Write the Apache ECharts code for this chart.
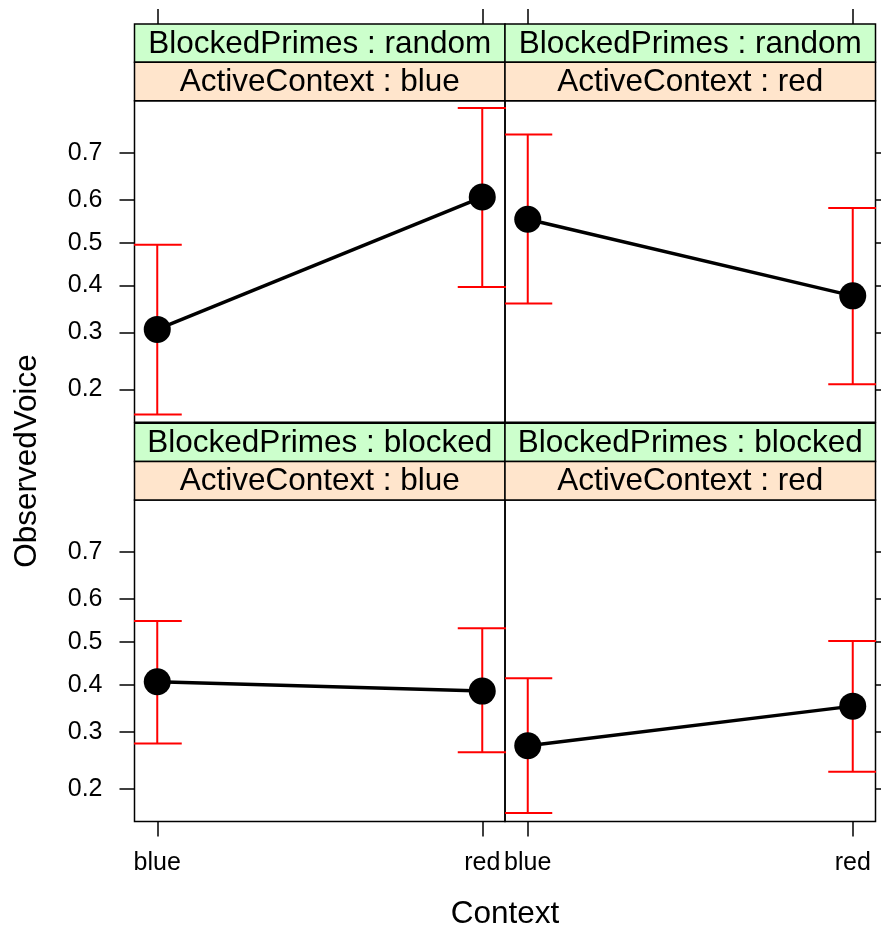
<!DOCTYPE html>
<html>
<head>
<meta charset="utf-8">
<script src="https://cdn.jsdelivr.net/npm/echarts@6/dist/echarts.min.js"></script>
<style>
  html, body { margin: 0; padding: 0; background: #fff; }
  #main { width: 881px; height: 930px; }
</style>
</head>
<body>
<div id="main"></div>
<script>
var categories = ['blue', 'red'];
var yTicks = [0.2, 0.3, 0.4, 0.5, 0.6, 0.7];

var stripPrimes = ['random', 'random', 'blocked', 'blocked'];
var stripActive = ['blue', 'red', 'blue', 'red'];

// fitted proportions and CI per panel (blue, red)
var fitTL = [0.306, 0.606], lowTL = [0.165, 0.397], upTL = [0.495, 0.781];
var fitTR = [0.555, 0.377], lowTR = [0.360, 0.208], upTR = [0.735, 0.581];
var fitBL = [0.407, 0.386], lowBL = [0.277, 0.261], upBL = [0.549, 0.532];
var fitBR = [0.273, 0.353], lowBR = [0.166, 0.227], upBR = [0.415, 0.502];

var panels = [
  {fit: fitTL, low: lowTL, up: upTL},
  {fit: fitTR, low: lowTR, up: upTR},
  {fit: fitBL, low: lowBL, up: upBL},
  {fit: fitBR, low: lowBR, up: upBR}
];

function logit(p) { return Math.log(p / (1 - p)); }

var FONT = 'Liberation Sans';
var yMin = -1.695, yMax = 1.34;
var yTickVals = yTicks.map(logit);
var xTickVals = categories.map(function (c, i) { return i + 1; });

var colLeft = [134.5, 505], colWidth = 370.5;
var rowTop = [100.7, 500], rowHeight = 321.5;
var stripH = 38.4;

var dom = document.getElementById('main');
var myChart = echarts.init(dom, null, {renderer: 'canvas'});

var grids = [], xAxes = [], yAxes = [], series = [], graphics = [];

panels.forEach(function (pn, i) {
  var col = i % 2, row = Math.floor(i / 2);
  grids.push({
    left: colLeft[col], top: rowTop[row], width: colWidth, height: rowHeight,
    show: true, borderColor: '#000', borderWidth: 1.5, backgroundColor: 'transparent'
  });
  xAxes.push({
    gridIndex: i, type: 'value', min: 0.93, max: 2.07,
    position: row === 0 ? 'top' : 'bottom',
    offset: row === 0 ? stripH * 2 : 0,
    splitLine: {show: false},
    axisLine: {show: false, onZero: false},
    axisTick: {show: true, length: 15, customValues: xTickVals, lineStyle: {color: '#000', width: 1.5}},
    axisLabel: {
      show: row === 1, customValues: xTickVals, margin: 29,
      fontSize: 25, color: '#000', fontFamily: FONT,
      formatter: function (v) { return categories[Math.round(v) - 1]; }
    }
  });
  yAxes.push({
    gridIndex: i, type: 'value', min: yMin, max: yMax,
    position: col === 0 ? 'left' : 'right',
    splitLine: {show: false},
    axisLine: {show: false, onZero: false},
    axisTick: {show: true, length: 15, customValues: yTickVals, lineStyle: {color: '#000', width: 1.5}},
    axisLabel: {
      show: col === 0, customValues: yTickVals, margin: 32,
      fontSize: 25, color: '#000', fontFamily: FONT,
      formatter: function (v) { return (1 / (1 + Math.exp(-v))).toFixed(1); }
    }
  });

  var barData = categories.map(function (c, k) {
    return [k + 1, logit(pn.low[k]), logit(pn.up[k])];
  });
  var pointData = categories.map(function (c, k) {
    return [k + 1, logit(pn.fit[k])];
  });

  series.push({
    type: 'custom', xAxisIndex: i, yAxisIndex: i, clip: true, z: 2,
    data: barData,
    renderItem: function (params, api) {
      var x = api.value(0);
      var a = api.coord([x, api.value(1)]);
      var b = api.coord([x, api.value(2)]);
      var w = 24.5;
      var st = {stroke: '#ff0000', lineWidth: 2};
      return {type: 'group', children: [
        {type: 'line', shape: {x1: a[0], y1: a[1], x2: b[0], y2: b[1]}, style: st},
        {type: 'line', shape: {x1: a[0] - w, y1: a[1], x2: a[0] + w, y2: a[1]}, style: st},
        {type: 'line', shape: {x1: b[0] - w, y1: b[1], x2: b[0] + w, y2: b[1]}, style: st}
      ]};
    }
  });
  series.push({
    type: 'line', xAxisIndex: i, yAxisIndex: i, z: 3,
    data: pointData,
    symbol: 'circle', symbolSize: 27,
    lineStyle: {color: '#000', width: 3.5},
    itemStyle: {color: '#000'},
    animation: false
  });

  // strips
  var sx = colLeft[col], sy = rowTop[row] - stripH * 2;
  graphics.push({
    type: 'rect', shape: {x: sx, y: sy, width: colWidth, height: stripH},
    style: {fill: '#ccffcc', stroke: '#000', lineWidth: 1.5}
  });
  graphics.push({
    type: 'rect', shape: {x: sx, y: sy + stripH, width: colWidth, height: stripH},
    style: {fill: '#ffe5cc', stroke: '#000', lineWidth: 1.5}
  });
  graphics.push({
    type: 'text', x: sx + colWidth / 2, y: sy + stripH / 2 + 1,
    style: {text: 'BlockedPrimes : ' + stripPrimes[i], fontSize: 31.5, fontFamily: FONT,
      fill: '#000', align: 'center', verticalAlign: 'middle'}
  });
  graphics.push({
    type: 'text', x: sx + colWidth / 2, y: sy + stripH * 1.5 + 1,
    style: {text: 'ActiveContext : ' + stripActive[i], fontSize: 31.5, fontFamily: FONT,
      fill: '#000', align: 'center', verticalAlign: 'middle'}
  });
});

graphics.push({
  type: 'text', x: 505, y: 914,
  style: {text: 'Context', fontSize: 31.5, fontFamily: FONT, fill: '#000',
    align: 'center', verticalAlign: 'middle'}
});
graphics.push({
  type: 'text', x: 27, y: 461, rotation: Math.PI / 2,
  style: {text: 'ObservedVoice', fontSize: 31.5, fontFamily: FONT, fill: '#000',
    align: 'center', verticalAlign: 'middle'}
});

var option = {
  animation: false,
  backgroundColor: '#fff',
  grid: grids,
  xAxis: xAxes,
  yAxis: yAxes,
  series: series,
  graphic: graphics
};

myChart.setOption(option);
</script>
</body>
</html>
